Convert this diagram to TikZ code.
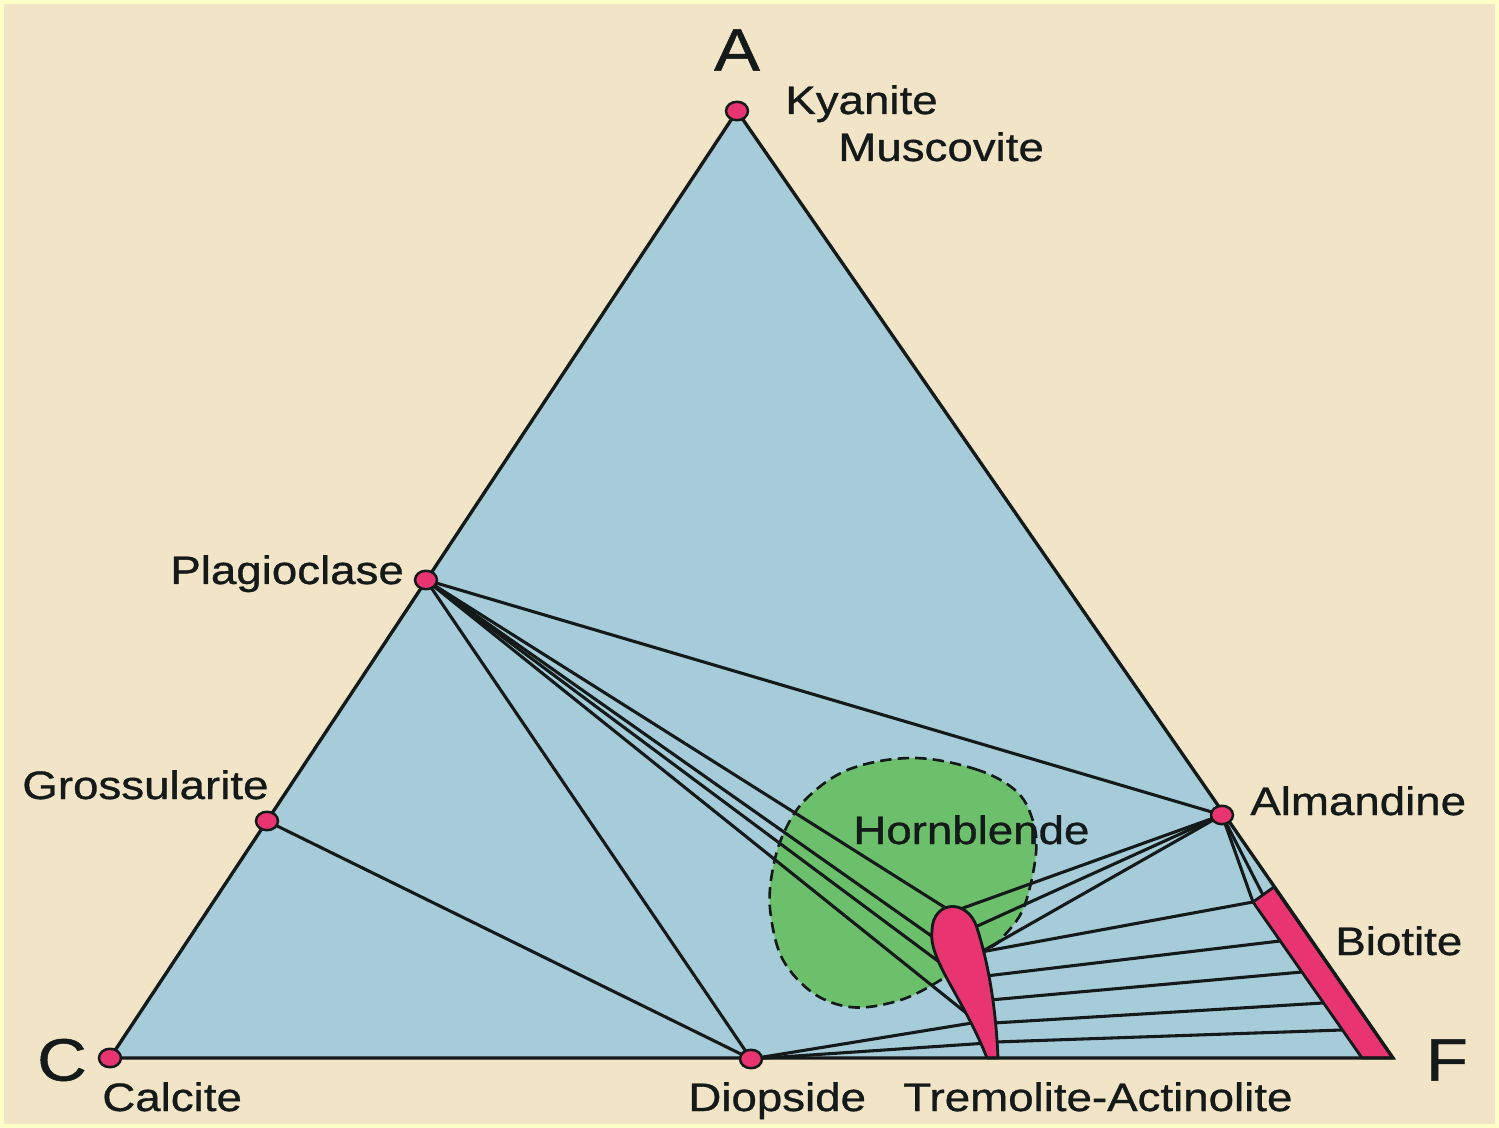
\documentclass[tikz,border=0pt]{standalone}
\usepackage{fontspec}
\setmainfont{Liberation Sans}[FakeStretch=1.15,FakeBold=0.8]
\usetikzlibrary{shapes.geometric}
\definecolor{bgbeige}{RGB}{242,228,198}
\definecolor{bgyellow}{RGB}{255,255,200}
\definecolor{triblue}{RGB}{166,203,217}
\definecolor{hbgreen}{RGB}{108,192,108}
\definecolor{minpink}{RGB}{232,52,112}
\definecolor{inkdark}{RGB}{20,25,25}
\begin{document}
\begin{tikzpicture}[x=0.02cm,y=-0.02cm,
  dot/.style={ellipse,draw=inkdark,line width=1.4pt,fill=minpink,minimum width=0.44cm,minimum height=0.37cm,inner sep=0pt},
  tie/.style={draw=inkdark,line width=1.75pt},
  triedge/.style={draw=inkdark,line width=1.9pt,line join=miter},
  lab/.style={font=\fontsize{22.6}{27}\selectfont,text=inkdark,inner sep=0pt,anchor=base west},
  big/.style={font=\fontsize{34}{40}\selectfont,text=inkdark,inner sep=0pt},
  phase/.style={fill=minpink,draw=inkdark,line width=1.6pt,line join=round}]

\fill[bgyellow] (0,0) rectangle (1499,1128);
\fill[bgbeige] (4,4) rectangle (1495,1124);
\useasboundingbox (0,0) rectangle (1499,1128);

% vertices and phase points
\coordinate (cA) at (737,111);
\coordinate (cC) at (110,1058);
\coordinate (cF) at (1393,1058);
\coordinate (plag) at (426,580);
\coordinate (gross) at (267,821);
\coordinate (diop) at (751,1059);
\coordinate (alm) at (1222,815);
% tremolite-actinolite lens points
\coordinate (lTop) at (952,912);
\coordinate (lL1) at (940,942);
\coordinate (lL2) at (950,970);
\coordinate (lL3) at (970,1016);
\coordinate (lL4) at (972,1023);
\coordinate (lL5) at (988,1043);
\coordinate (lR1) at (973,928);
\coordinate (lR2) at (981,952);
\coordinate (lR3) at (986,976);
\coordinate (lR4) at (990,1000);
\coordinate (lR5) at (994,1023);
\coordinate (lR6) at (996,1042);
% biotite strip points
\coordinate (b0) at (1253,902);
\coordinate (bM) at (1263,895);
\coordinate (b1) at (1280,941);
\coordinate (b2) at (1302,972);
\coordinate (b3) at (1323,1003);
\coordinate (b4) at (1342,1030);

% triangle fill
\fill[triblue] (cA) -- (cC) -- (cF) -- cycle;

% hornblende field
\draw[fill=hbgreen,draw=inkdark,line width=1.5pt,dash pattern=on 6.5pt off 3.5pt]
  plot[smooth cycle,tension=0.6] coordinates {(913,758) (975,769) (1015,790) (1032,818) (1036,853) (1024,907) (1003,937) (987,950) (927,988) (890,1003) (850,1007) (813,993) (783,960) (771,917) (771,880) (782,837) (806,799) (850,769)};

% tie lines
\draw[tie] (plag) -- (alm);
\draw[tie] (plag) -- (diop);
\draw[tie] (plag) -- (lTop);
\draw[tie] (plag) -- (lL1);
\draw[tie] (plag) -- (lL2);
\draw[tie] (plag) -- (lL3);
\draw[tie] (gross) -- (diop);
\draw[tie] (diop) -- (lL4);
\draw[tie] (diop) -- (lL5);
\draw[tie] (alm) -- (lTop);
\draw[tie] (alm) -- (lR1);
\draw[tie] (alm) -- (lR2);
\draw[tie] (lR2) -- (b0);
\draw[tie] (lR3) -- (b1);
\draw[tie] (lR4) -- (b2);
\draw[tie] (lR5) -- (b3);
\draw[tie] (lR6) -- (b4);
\draw[tie] (alm) -- (b0);
\draw[tie] (alm) -- (bM);

% tremolite-actinolite lens
\path[phase] (987,1058) .. controls (962,995) and (928,960) .. (932,930)
  .. controls (933,900) and (968,898) .. (977,928)
  .. controls (989,965) and (996,1010) .. (998,1058) -- cycle;

% biotite strip
\path[phase] (b0) -- (1274,887) -- (cF) -- (1362,1058) -- cycle;

% triangle edges
\draw[triedge] (cA) -- (cC) -- (cF) -- cycle;

% phase dots
\node[dot] (kyanite) at (cA) {};
\node[dot] (plagioclase) at (plag) {};
\node[dot] (grossularite) at (gross) {};
\node[dot] (calcite) at (cC) {};
\node[dot] (diopside) at (diop) {};
\node[dot] (almandine) at (alm) {};

% labels
\node[big] (labA) at (737,50) {A};
\node[big] (labC) at (62,1060) {C};
\node[big] (labF) at (1447,1060) {F};
\node[lab] (tKy) at (785,114) {Kyanite};
\node[lab] (tMu) at (838,161) {Muscovite};
\node[lab] (tPl) at (170,584) {Plagioclase};
\node[lab] (tGr) at (22,799) {Grossularite};
\node[lab] (tAl) at (1250,815) {Almandine};
\node[lab] (tHb) at (853,844) {Hornblende};
\node[lab] (tBi) at (1335,955) {Biotite};
\node[lab] (tCa) at (102,1111) {Calcite};
\node[lab] (tDi) at (688,1111) {Diopside};
\node[lab] (tTr) at (903,1111) {Tremolite-Actinolite};
\end{tikzpicture}
\end{document}
